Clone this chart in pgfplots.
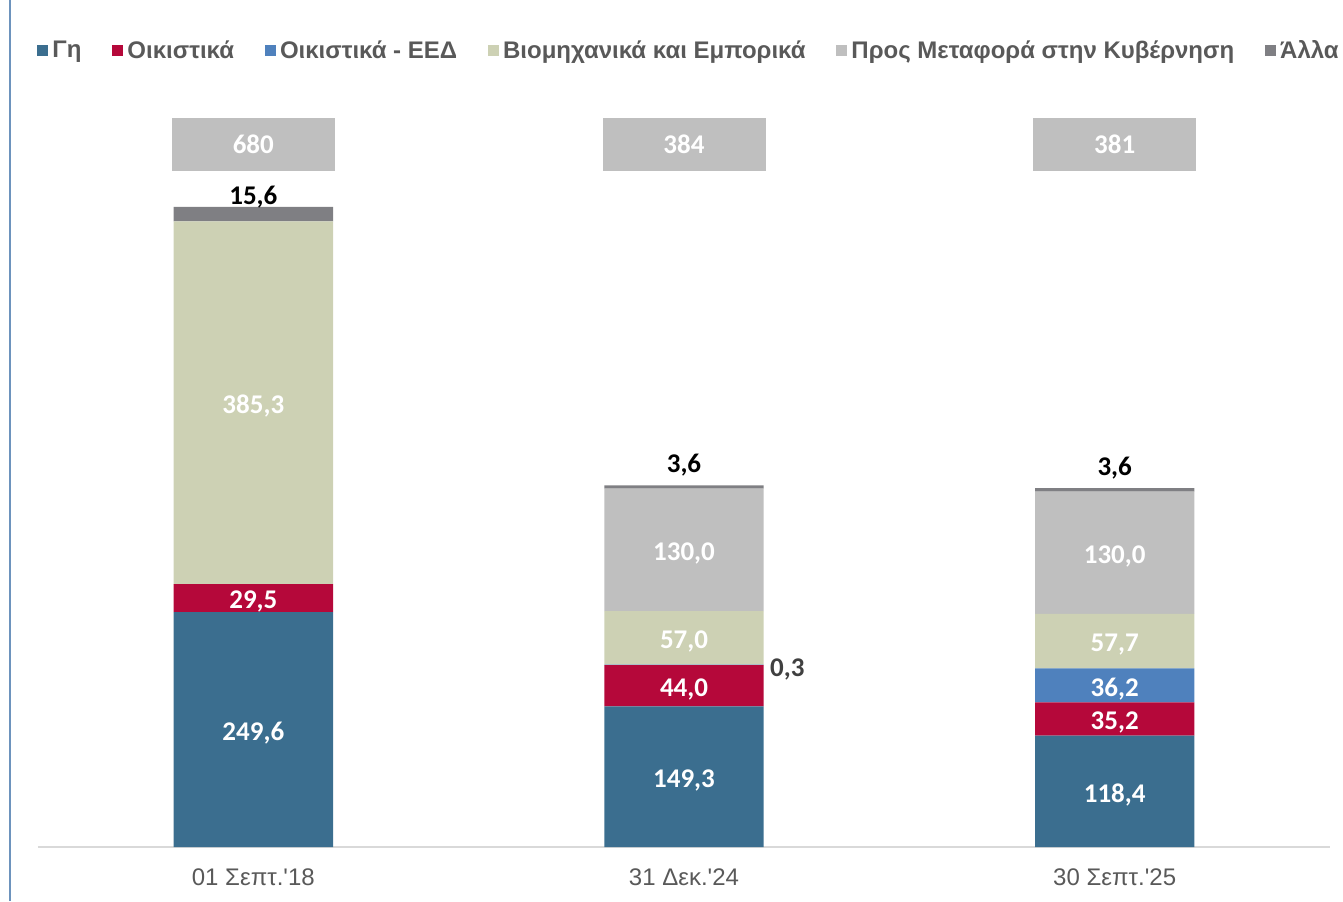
\documentclass[border=0pt]{standalone}
\usepackage{pgfplots}
\pgfplotsset{compat=1.18}
\usepackage{pgfplotstable}
\usepackage{fontspec}
\setmainfont{Liberation Sans}
\newfontfamily\arial{Liberation Sans}
\newfontfamily\calibri{Carlito}

\definecolor{cGi}{HTML}{3B6E8F}
\definecolor{cOik}{HTML}{B5083A}
\definecolor{cEED}{HTML}{4F81BD}
\definecolor{cBio}{HTML}{CDD1B4}
\definecolor{cPro}{HTML}{BFBFBF}
\definecolor{cAll}{HTML}{7F7F83}
\definecolor{txtg}{HTML}{595959}
\definecolor{frame}{HTML}{6D93BD}

\pgfplotstableread{
x g o e b p a
0 249.6 29.5 0 385.3 0 15.6
1 149.3 44.0 0.3 57.0 130.0 3.6
2 118.4 35.2 36.2 57.7 130.0 3.6
}\bars

\pgfplotstableread{
x y label
0 124.8 249,6
0 264.35 29,5
0 471.75 385,3
1 74.65 149,3
1 171.3 44,0
1 222.1 57,0
1 315.6 130,0
2 59.2 118,4
2 136.0 35,2
2 171.7 36,2
2 218.2 57,7
2 312.5 130,0
}\whitelabels

\pgfplotstableread{
x y label
0 693.6 15,6
1 408.9 3,6
2 405.7 3,6
}\blacklabels

\pgfplotstableread{
x y label
1.24 192.2 0,3
}\darklabels

\pgfplotstableread{
x y label
0 746.4 680
1 746.4 384
2 746.4 381
}\totals

\begin{document}
\begin{tikzpicture}
\begin{axis}[
  scale only axis, width=646pt, height=373.5pt,
  xmin=-0.5, xmax=2.5, ymin=0, ymax=793.4,
  ybar stacked, bar width=0.37,
  legend image code/.code={\fill[#1] (0pt,-2.75pt) rectangle (5.5pt,2.75pt);},
  axis y line=none, axis x line=bottom,
  x axis line style={-, draw=black!15, line width=1pt},
  xtick={0,1,2},
  xticklabels={01 Σεπτ.'18, 31 Δεκ.'24, 30 Σεπτ.'25},
  major tick length=0pt,
  xticklabel style={anchor=base, yshift=-19pt, text=txtg, font=\arial\fontsize{12}{14}\selectfont},
  clip=false,
  legend columns=6,
  legend style={draw=none, fill=none, inner sep=0pt,
    at={(rel axis cs:0,1)}, anchor=west, yshift=24.5pt, xshift=-0.5pt,
    font=\arial\bfseries\fontsize{12}{14}\selectfont, text=txtg,
    /tikz/every even column/.append style={column sep=13.5pt},
    cells={anchor=west}},
]
\addplot[fill=cGi, draw=none] table[x=x, y=g] {\bars};
\addlegendentry{Γη}
\addplot[fill=cOik, draw=none] table[x=x, y=o] {\bars};
\addlegendentry{Οικιστικά}
\addplot[fill=cEED, draw=none] table[x=x, y=e] {\bars};
\addlegendentry{Οικιστικά - ΕΕΔ}
\addplot[fill=cBio, draw=none] table[x=x, y=b] {\bars};
\addlegendentry{Βιομηχανικά και Εμπορικά}
\addplot[fill=cPro, draw=none] table[x=x, y=p] {\bars};
\addlegendentry{Προς Μεταφορά στην Κυβέρνηση}
\addplot[fill=cAll, draw=none] table[x=x, y=a] {\bars};
\addlegendentry{Άλλα}
\draw[frame, line width=0.75pt] (rel axis cs:-0.0217,-0.0723) -- (rel axis cs:-0.0217,1.1339);
\coordinate (bbl) at (rel axis cs:-0.02941,-0.07229);
\coordinate (btr) at (rel axis cs:1.01006,1.13387);
\end{axis}
\begin{axis}[
  scale only axis, width=646pt, height=373.5pt,
  xmin=-0.5, xmax=2.5, ymin=0, ymax=793.4,
  hide axis, clip=false,
  point meta=explicit symbolic,
]
\addplot[draw=none, mark=none, nodes near coords,
  nodes near coords style={anchor=center, yshift=-1.75pt, text=white, font=\calibri\bfseries\fontsize{13.5}{16}\selectfont}]
  table[x=x, y=y, meta=label] {\whitelabels};
\addplot[draw=none, mark=none, nodes near coords,
  nodes near coords style={anchor=center, yshift=-1.5pt, text=black, font=\calibri\bfseries\fontsize{13.5}{16}\selectfont}]
  table[x=x, y=y, meta=label] {\blacklabels};
\addplot[draw=none, mark=none, nodes near coords,
  nodes near coords style={anchor=center, yshift=-1.5pt, text=black!75, font=\calibri\bfseries\fontsize{13.5}{16}\selectfont}]
  table[x=x, y=y, meta=label] {\darklabels};
\addplot[draw=none, mark=none, nodes near coords,
  nodes near coords style={anchor=center, fill=cPro, minimum width=81.5pt, minimum height=26.5pt, inner sep=0pt, text=white, font=\calibri\bfseries\fontsize{13.5}{16}\selectfont}]
  table[x=x, y=y, meta=label] {\totals};
\end{axis}
\pgfresetboundingbox
\path[use as bounding box] (bbl) rectangle (btr);
\end{tikzpicture}
\end{document}
